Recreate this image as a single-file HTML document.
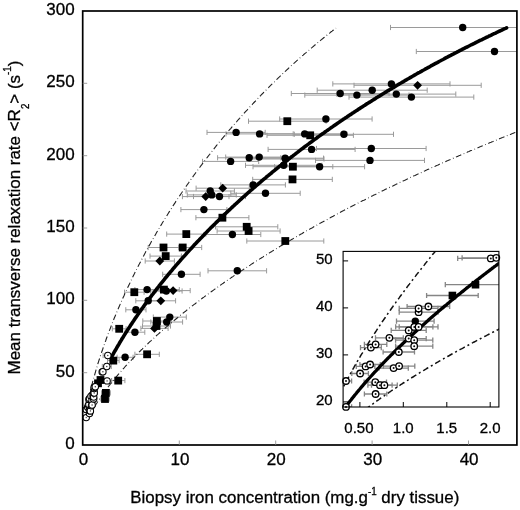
<!DOCTYPE html>
<html><head><meta charset="utf-8"><title>Figure</title><style>html,body{margin:0;padding:0;background:#fff}svg{display:block}text{stroke:#000;stroke-width:0.3px}</style></head><body>
<svg width="520" height="510" viewBox="0 0 520 510" font-family="'Liberation Sans', Arial, sans-serif" fill="#000" stroke="none">
<rect width="520" height="510" fill="#fff"/>
<defs><clipPath id="cm"><rect x="82.7" y="11.0" width="434.2" height="434.0"/></clipPath><clipPath id="ci"><rect x="343.1" y="251.4" width="155.8" height="155.6"/></clipPath></defs>
<g clip-path="url(#cm)">
<path d="M134.9 289.6H159.3M134.9 287.0v5.2M159.3 287.0v5.2" stroke="#9a9a9a" stroke-width="1.0" fill="none"/>
<path d="M150.5 291.0H182.1M150.5 288.4v5.2M182.1 288.4v5.2" stroke="#9a9a9a" stroke-width="1.0" fill="none"/>
<path d="M135.8 300.8H160.6M135.8 298.2v5.2M160.6 298.2v5.2" stroke="#9a9a9a" stroke-width="1.0" fill="none"/>
<path d="M125.8 309.8H146.0M125.8 307.2v5.2M146.0 307.2v5.2" stroke="#9a9a9a" stroke-width="1.0" fill="none"/>
<path d="M153.3 317.1H186.3M153.3 314.5v5.2M186.3 314.5v5.2" stroke="#9a9a9a" stroke-width="1.0" fill="none"/>
<path d="M150.8 322.0H182.6M150.8 319.4v5.2M182.6 319.4v5.2" stroke="#9a9a9a" stroke-width="1.0" fill="none"/>
<path d="M125.0 332.2H144.8M125.0 329.6v5.2M144.8 329.6v5.2" stroke="#9a9a9a" stroke-width="1.0" fill="none"/>
<path d="M117.1 357.3H133.1M117.1 354.7v5.2M133.1 354.7v5.2" stroke="#9a9a9a" stroke-width="1.0" fill="none"/>
<path d="M180.9 209.6H226.9M180.9 207.0v5.2M226.9 207.0v5.2" stroke="#9a9a9a" stroke-width="1.0" fill="none"/>
<path d="M187.3 194.9H236.3M187.3 192.3v5.2M236.3 192.3v5.2" stroke="#9a9a9a" stroke-width="1.0" fill="none"/>
<path d="M186.0 191.0H234.4M186.0 188.4v5.2M234.4 188.4v5.2" stroke="#9a9a9a" stroke-width="1.0" fill="none"/>
<path d="M193.5 196.5H245.5M193.5 193.9v5.2M245.5 193.9v5.2" stroke="#9a9a9a" stroke-width="1.0" fill="none"/>
<path d="M162.7 274.3H200.1M162.7 271.7v5.2M200.1 271.7v5.2" stroke="#9a9a9a" stroke-width="1.0" fill="none"/>
<path d="M207.0 132.4H265.2M207.0 129.8v5.2M265.2 129.8v5.2" stroke="#9a9a9a" stroke-width="1.0" fill="none"/>
<path d="M226.0 133.9H293.2M226.0 131.3v5.2M293.2 131.3v5.2" stroke="#9a9a9a" stroke-width="1.0" fill="none"/>
<path d="M202.5 161.4H258.7M202.5 158.8v5.2M258.7 158.8v5.2" stroke="#9a9a9a" stroke-width="1.0" fill="none"/>
<path d="M217.6 157.8H280.8M217.6 155.2v5.2M280.8 155.2v5.2" stroke="#9a9a9a" stroke-width="1.0" fill="none"/>
<path d="M225.7 157.1H292.7M225.7 154.5v5.2M292.7 154.5v5.2" stroke="#9a9a9a" stroke-width="1.0" fill="none"/>
<path d="M247.0 159.0H324.0M247.0 156.4v5.2M324.0 156.4v5.2" stroke="#9a9a9a" stroke-width="1.0" fill="none"/>
<path d="M245.5 165.3H321.9M245.5 162.7v5.2M321.9 162.7v5.2" stroke="#9a9a9a" stroke-width="1.0" fill="none"/>
<path d="M220.8 184.9H285.4M220.8 182.3v5.2M285.4 182.3v5.2" stroke="#9a9a9a" stroke-width="1.0" fill="none"/>
<path d="M230.8 193.3H300.2M230.8 190.7v5.2M300.2 190.7v5.2" stroke="#9a9a9a" stroke-width="1.0" fill="none"/>
<path d="M204.0 234.5H260.8M204.0 231.9v5.2M260.8 231.9v5.2" stroke="#9a9a9a" stroke-width="1.0" fill="none"/>
<path d="M208.0 270.8H266.6M208.0 268.2v5.2M266.6 268.2v5.2" stroke="#9a9a9a" stroke-width="1.0" fill="none"/>
<path d="M279.7 119.0H372.1M279.7 116.4v5.2M372.1 116.4v5.2" stroke="#9a9a9a" stroke-width="1.0" fill="none"/>
<path d="M262.6 133.9H346.8M262.6 131.3v5.2M346.8 131.3v5.2" stroke="#9a9a9a" stroke-width="1.0" fill="none"/>
<path d="M294.3 134.3H393.5M294.3 131.7v5.2M393.5 131.7v5.2" stroke="#9a9a9a" stroke-width="1.0" fill="none"/>
<path d="M268.1 149.4H355.1M268.1 146.8v5.2M355.1 146.8v5.2" stroke="#9a9a9a" stroke-width="1.0" fill="none"/>
<path d="M316.5 148.5H426.1M316.5 145.9v5.2M426.1 145.9v5.2" stroke="#9a9a9a" stroke-width="1.0" fill="none"/>
<path d="M315.5 160.4H424.5M315.5 157.8v5.2M424.5 157.8v5.2" stroke="#9a9a9a" stroke-width="1.0" fill="none"/>
<path d="M246.7 158.2H323.5M246.7 155.6v5.2M323.5 155.6v5.2" stroke="#9a9a9a" stroke-width="1.0" fill="none"/>
<path d="M274.6 166.7H364.6M274.6 164.1v5.2M364.6 164.1v5.2" stroke="#9a9a9a" stroke-width="1.0" fill="none"/>
<path d="M291.3 93.5H389.1M291.3 90.9v5.2M389.1 90.9v5.2" stroke="#9a9a9a" stroke-width="1.0" fill="none"/>
<path d="M304.8 95.1H409.0M304.8 92.5v5.2M409.0 92.5v5.2" stroke="#9a9a9a" stroke-width="1.0" fill="none"/>
<path d="M317.2 90.2H427.2M317.2 87.6v5.2M427.2 87.6v5.2" stroke="#9a9a9a" stroke-width="1.0" fill="none"/>
<path d="M332.8 83.9H450.0M332.8 81.3v5.2M450.0 81.3v5.2" stroke="#9a9a9a" stroke-width="1.0" fill="none"/>
<path d="M336.8 94.1H455.8M336.8 91.5v5.2M455.8 91.5v5.2" stroke="#9a9a9a" stroke-width="1.0" fill="none"/>
<path d="M349.0 97.1H473.8M349.0 94.5v5.2M473.8 94.5v5.2" stroke="#9a9a9a" stroke-width="1.0" fill="none"/>
<path d="M390.5 27.5H534.9M390.5 24.9v5.2M534.9 24.9v5.2" stroke="#9a9a9a" stroke-width="1.0" fill="none"/>
<path d="M416.3 51.5H572.7M416.3 48.9v5.2M572.7 48.9v5.2" stroke="#9a9a9a" stroke-width="1.0" fill="none"/>
<path d="M124.5 292.2H144.1M124.5 289.6v5.2M144.1 289.6v5.2" stroke="#9a9a9a" stroke-width="1.0" fill="none"/>
<path d="M148.5 289.6H179.3M148.5 287.0v5.2M179.3 287.0v5.2" stroke="#9a9a9a" stroke-width="1.0" fill="none"/>
<path d="M142.8 321.0H171.0M142.8 318.4v5.2M171.0 318.4v5.2" stroke="#9a9a9a" stroke-width="1.0" fill="none"/>
<path d="M142.5 326.0H170.5M142.5 323.4v5.2M170.5 323.4v5.2" stroke="#9a9a9a" stroke-width="1.0" fill="none"/>
<path d="M112.3 328.8H126.1M112.3 326.2v5.2M126.1 326.2v5.2" stroke="#9a9a9a" stroke-width="1.0" fill="none"/>
<path d="M134.9 354.3H159.3M134.9 351.7v5.2M159.3 351.7v5.2" stroke="#9a9a9a" stroke-width="1.0" fill="none"/>
<path d="M107.5 360.6H119.1M107.5 358.0v5.2M119.1 358.0v5.2" stroke="#9a9a9a" stroke-width="1.0" fill="none"/>
<path d="M101.5 392.9H110.3M101.5 390.3v5.2M110.3 390.3v5.2" stroke="#9a9a9a" stroke-width="1.0" fill="none"/>
<path d="M100.8 399.0H109.2M100.8 396.4v5.2M109.2 396.4v5.2" stroke="#9a9a9a" stroke-width="1.0" fill="none"/>
<path d="M111.5 380.6H124.9M111.5 378.0v5.2M124.9 378.0v5.2" stroke="#9a9a9a" stroke-width="1.0" fill="none"/>
<path d="M166.7 234.1H205.9M166.7 231.5v5.2M205.9 231.5v5.2" stroke="#9a9a9a" stroke-width="1.0" fill="none"/>
<path d="M148.2 247.5H178.8M148.2 244.9v5.2M178.8 244.9v5.2" stroke="#9a9a9a" stroke-width="1.0" fill="none"/>
<path d="M163.7 247.5H201.7M163.7 244.9v5.2M201.7 244.9v5.2" stroke="#9a9a9a" stroke-width="1.0" fill="none"/>
<path d="M150.0 256.1H181.4M150.0 253.5v5.2M181.4 253.5v5.2" stroke="#9a9a9a" stroke-width="1.0" fill="none"/>
<path d="M195.9 217.7H248.9M195.9 215.1v5.2M248.9 215.1v5.2" stroke="#9a9a9a" stroke-width="1.0" fill="none"/>
<path d="M215.6 226.8H277.8M215.6 224.2v5.2M277.8 224.2v5.2" stroke="#9a9a9a" stroke-width="1.0" fill="none"/>
<path d="M217.1 231.0H280.1M217.1 228.4v5.2M280.1 228.4v5.2" stroke="#9a9a9a" stroke-width="1.0" fill="none"/>
<path d="M246.8 241.0H323.8M246.8 238.4v5.2M323.8 238.4v5.2" stroke="#9a9a9a" stroke-width="1.0" fill="none"/>
<path d="M248.5 121.2H326.1M248.5 118.6v5.2M326.1 118.6v5.2" stroke="#9a9a9a" stroke-width="1.0" fill="none"/>
<path d="M267.0 135.3H353.4M267.0 132.7v5.2M353.4 132.7v5.2" stroke="#9a9a9a" stroke-width="1.0" fill="none"/>
<path d="M253.0 166.7H332.8M253.0 164.1v5.2M332.8 164.1v5.2" stroke="#9a9a9a" stroke-width="1.0" fill="none"/>
<path d="M252.7 179.4H332.3M252.7 176.8v5.2M332.3 176.8v5.2" stroke="#9a9a9a" stroke-width="1.0" fill="none"/>
<path d="M156.0 290.6H190.2M156.0 288.0v5.2M190.2 288.0v5.2" stroke="#9a9a9a" stroke-width="1.0" fill="none"/>
<path d="M146.0 300.8H175.6M146.0 298.2v5.2M175.6 298.2v5.2" stroke="#9a9a9a" stroke-width="1.0" fill="none"/>
<path d="M140.9 328.4H168.1M140.9 325.8v5.2M168.1 325.8v5.2" stroke="#9a9a9a" stroke-width="1.0" fill="none"/>
<path d="M182.4 196.6H229.0M182.4 194.0v5.2M229.0 194.0v5.2" stroke="#9a9a9a" stroke-width="1.0" fill="none"/>
<path d="M145.2 261.0H174.4M145.2 258.4v5.2M174.4 258.4v5.2" stroke="#9a9a9a" stroke-width="1.0" fill="none"/>
<path d="M196.1 188.2H249.3M196.1 185.6v5.2M249.3 185.6v5.2" stroke="#9a9a9a" stroke-width="1.0" fill="none"/>
<path d="M354.0 85.3H481.2M354.0 82.7v5.2M481.2 82.7v5.2" stroke="#9a9a9a" stroke-width="1.0" fill="none"/>
<path d="M102.3 366.5H111.3M102.3 363.9v5.2M111.3 363.9v5.2" stroke="#9a9a9a" stroke-width="1.0" fill="none"/>
<path d="M102.5 380.9H111.7M102.5 378.3v5.2M111.7 378.3v5.2" stroke="#9a9a9a" stroke-width="1.0" fill="none"/>
<path d="M103.1 355.5H112.5M103.1 352.9v5.2M112.5 352.9v5.2" stroke="#9a9a9a" stroke-width="1.0" fill="none"/>
<path d="M86.3,409.4 L87.2,404.6 L88.2,400.1 L89.2,395.8 L90.1,391.7 L91.1,387.8 L92.1,384.1 L93.0,380.5 L94.0,377.0 L95.0,373.6 L95.9,370.3 L96.9,367.1 L97.8,364.0 L98.8,360.9 L99.8,357.9 L100.7,354.9 L101.7,352.0 L102.7,349.2 L103.6,346.4 L104.6,343.7 L105.6,341.0 L106.5,338.3 L107.5,335.7 L108.4,333.1 L109.4,330.6 L110.4,328.1 L111.3,325.6 L112.3,323.1 L113.3,320.7 L114.2,318.3 L115.2,316.0 L116.2,313.6 L117.1,311.3 L118.1,309.1 L119.1,306.8 L120.0,304.6 L121.0,302.4 L121.9,300.2 L122.9,298.0 L123.9,295.9 L124.8,293.8 L125.8,291.7 L126.8,289.6 L127.7,287.5 L128.7,285.5 L129.7,283.4 L130.6,281.4 L131.6,279.4 L132.5,277.5 L133.5,275.5 L134.5,273.6 L135.4,271.6 L136.4,269.7 L137.4,267.8 L138.3,265.9 L139.3,264.1 L140.3,262.2 L141.2,260.4 L142.2,258.5 L143.2,256.7 L144.1,254.9 L145.1,253.1 L146.0,251.3 L147.0,249.6 L148.0,247.8 L148.9,246.1 L149.9,244.4 L150.9,242.6 L151.8,240.9 L152.8,239.2 L153.8,237.5 L154.7,235.9 L155.7,234.2 L156.6,232.6 L157.6,230.9 L158.6,229.3 L159.5,227.7 L160.5,226.0 L161.5,224.4 L162.4,222.8 L163.4,221.3 L164.4,219.7 L165.3,218.1 L166.3,216.6 L167.3,215.0 L168.2,213.5 L169.2,211.9 L170.1,210.4 L171.1,208.9 L172.1,207.4 L173.0,205.9 L174.0,204.4 L175.0,202.9 L175.9,201.4 L176.9,200.0 L177.9,198.5 L178.8,197.1 L179.8,195.6 L180.7,194.2 L181.7,192.8 L182.7,191.3 L183.6,189.9 L184.6,188.5 L185.6,187.1 L186.5,185.7 L187.5,184.4 L188.5,183.0 L189.4,181.6 L190.4,180.2 L191.4,178.9 L192.3,177.5 L193.3,176.2 L194.2,174.8 L195.2,173.5 L196.2,172.2 L197.1,170.9 L198.1,169.6 L199.1,168.3 L200.0,167.0 L201.0,165.7 L202.0,164.4 L202.9,163.1 L203.9,161.8 L204.8,160.5 L205.8,159.3 L206.8,158.0 L207.7,156.8 L208.7,155.5 L209.7,154.3 L210.6,153.0 L211.6,151.8 L212.6,150.6 L213.5,149.4 L214.5,148.1 L215.5,146.9 L216.4,145.7 L217.4,144.5 L218.3,143.3 L219.3,142.1 L220.3,141.0 L221.2,139.8 L222.2,138.6 L223.2,137.4 L224.1,136.3 L225.1,135.1 L226.1,134.0 L227.0,132.8 L228.0,131.7 L228.9,130.5 L229.9,129.4 L230.9,128.3 L231.8,127.1 L232.8,126.0 L233.8,124.9 L234.7,123.8 L235.7,122.7 L236.7,121.6 L237.6,120.5 L238.6,119.4 L239.6,118.3 L240.5,117.2 L241.5,116.2 L242.4,115.1 L243.4,114.0 L244.4,112.9 L245.3,111.9 L246.3,110.8 L247.3,109.8 L248.2,108.7 L249.2,107.7 L250.2,106.6 L251.1,105.6 L252.1,104.6 L253.0,103.5 L254.0,102.5 L255.0,101.5 L255.9,100.5 L256.9,99.5 L257.9,98.4 L258.8,97.4 L259.8,96.4 L260.8,95.4 L261.7,94.4 L262.7,93.5 L263.6,92.5 L264.6,91.5 L265.6,90.5 L266.5,89.5 L267.5,88.6 L268.5,87.6 L269.4,86.6 L270.4,85.7 L271.4,84.7 L272.3,83.8 L273.3,82.8 L274.3,81.9 L275.2,80.9 L276.2,80.0 L277.1,79.1 L278.1,78.1 L279.1,77.2 L280.0,76.3 L281.0,75.4 L282.0,74.4 L282.9,73.5 L283.9,72.6 L284.9,71.7 L285.8,70.8 L286.8,69.9 L287.8,69.0 L288.7,68.1 L289.7,67.2 L290.6,66.3 L291.6,65.4 L292.6,64.6 L293.5,63.7 L294.5,62.8 L295.5,61.9 L296.4,61.1 L297.4,60.2 L298.4,59.3 L299.3,58.5 L300.3,57.6 L301.2,56.8 L302.2,55.9 L303.2,55.1 L304.1,54.2 L305.1,53.4 L306.1,52.6 L307.0,51.7 L308.0,50.9 L309.0,50.1 L309.9,49.3 L310.9,48.4 L311.9,47.6 L312.8,46.8 L313.8,46.0 L314.7,45.2 L315.7,44.4 L316.7,43.6 L317.6,42.8 L318.6,42.0 L319.6,41.2 L320.5,40.4 L321.5,39.6 L322.5,38.8 L323.4,38.0 L324.4,37.2 L325.3,36.5 L326.3,35.7 L327.3,34.9 L328.2,34.1 L329.2,33.4 L330.2,32.6 L331.1,31.8 L332.1,31.1 L333.1,30.3 L334.0,29.6 L335.0,28.8 L336.0,28.1" stroke="#222" stroke-width="1.1" fill="none" stroke-dasharray="5.8 2.6 0.7 2.6"/>
<path d="M89.2,416.7 L90.1,414.7 L91.1,412.9 L92.1,411.1 L93.0,409.4 L94.0,407.7 L95.0,406.1 L95.9,404.5 L96.9,403.0 L97.8,401.5 L98.8,400.0 L99.8,398.6 L100.7,397.1 L101.7,395.7 L102.7,394.4 L103.6,393.0 L104.6,391.7 L105.6,390.3 L106.5,389.1 L107.5,387.8 L108.4,386.5 L109.4,385.3 L110.4,384.0 L111.3,382.8 L112.3,381.6 L113.3,380.4 L114.2,379.2 L115.2,378.1 L116.2,376.9 L117.1,375.8 L118.1,374.6 L119.1,373.5 L120.0,372.4 L121.0,371.3 L121.9,370.2 L122.9,369.1 L123.9,368.1 L124.8,367.0 L125.8,365.9 L126.8,364.9 L127.7,363.8 L128.7,362.8 L129.7,361.8 L130.6,360.8 L131.6,359.8 L132.5,358.8 L133.5,357.8 L134.5,356.8 L135.4,355.8 L136.4,354.8 L137.4,353.8 L138.3,352.9 L139.3,351.9 L140.3,351.0 L141.2,350.0 L142.2,349.1 L143.2,348.1 L144.1,347.2 L145.1,346.3 L146.0,345.3 L147.0,344.4 L148.0,343.5 L148.9,342.6 L149.9,341.7 L150.9,340.8 L151.8,339.9 L152.8,339.0 L153.8,338.2 L154.7,337.3 L155.7,336.4 L156.6,335.5 L157.6,334.7 L158.6,333.8 L159.5,333.0 L160.5,332.1 L161.5,331.3 L162.4,330.4 L163.4,329.6 L164.4,328.7 L165.3,327.9 L166.3,327.1 L167.3,326.2 L168.2,325.4 L169.2,324.6 L170.1,323.8 L171.1,323.0 L172.1,322.2 L173.0,321.4 L174.0,320.6 L175.0,319.8 L175.9,319.0 L176.9,318.2 L177.9,317.4 L178.8,316.6 L179.8,315.8 L180.7,315.0 L181.7,314.2 L182.7,313.5 L183.6,312.7 L184.6,311.9 L185.6,311.2 L186.5,310.4 L187.5,309.6 L188.5,308.9 L189.4,308.1 L190.4,307.4 L191.4,306.6 L192.3,305.9 L193.3,305.1 L194.2,304.4 L195.2,303.7 L196.2,302.9 L197.1,302.2 L198.1,301.4 L199.1,300.7 L200.0,300.0 L201.0,299.3 L202.0,298.5 L202.9,297.8 L203.9,297.1 L204.8,296.4 L205.8,295.7 L206.8,295.0 L207.7,294.3 L208.7,293.6 L209.7,292.9 L210.6,292.2 L211.6,291.5 L212.6,290.8 L213.5,290.1 L214.5,289.4 L215.5,288.7 L216.4,288.0 L217.4,287.3 L218.3,286.6 L219.3,285.9 L220.3,285.3 L221.2,284.6 L222.2,283.9 L223.2,283.2 L224.1,282.5 L225.1,281.9 L226.1,281.2 L227.0,280.5 L228.0,279.9 L228.9,279.2 L229.9,278.6 L230.9,277.9 L231.8,277.2 L232.8,276.6 L233.8,275.9 L234.7,275.3 L235.7,274.6 L236.7,274.0 L237.6,273.3 L238.6,272.7 L239.6,272.0 L240.5,271.4 L241.5,270.8 L242.4,270.1 L243.4,269.5 L244.4,268.8 L245.3,268.2 L246.3,267.6 L247.3,266.9 L248.2,266.3 L249.2,265.7 L250.2,265.1 L251.1,264.4 L252.1,263.8 L253.0,263.2 L254.0,262.6 L255.0,262.0 L255.9,261.3 L256.9,260.7 L257.9,260.1 L258.8,259.5 L259.8,258.9 L260.8,258.3 L261.7,257.7 L262.7,257.1 L263.6,256.5 L264.6,255.9 L265.6,255.3 L266.5,254.7 L267.5,254.1 L268.5,253.5 L269.4,252.9 L270.4,252.3 L271.4,251.7 L272.3,251.1 L273.3,250.5 L274.3,249.9 L275.2,249.3 L276.2,248.7 L277.1,248.1 L278.1,247.6 L279.1,247.0 L280.0,246.4 L281.0,245.8 L282.0,245.2 L282.9,244.7 L283.9,244.1 L284.9,243.5 L285.8,242.9 L286.8,242.4 L287.8,241.8 L288.7,241.2 L289.7,240.7 L290.6,240.1 L291.6,239.5 L292.6,239.0 L293.5,238.4 L294.5,237.8 L295.5,237.3 L296.4,236.7 L297.4,236.2 L298.4,235.6 L299.3,235.0 L300.3,234.5 L301.2,233.9 L302.2,233.4 L303.2,232.8 L304.1,232.3 L305.1,231.7 L306.1,231.2 L307.0,230.6 L308.0,230.1 L309.0,229.5 L309.9,229.0 L310.9,228.4 L311.9,227.9 L312.8,227.4 L313.8,226.8 L314.7,226.3 L315.7,225.8 L316.7,225.2 L317.6,224.7 L318.6,224.1 L319.6,223.6 L320.5,223.1 L321.5,222.5 L322.5,222.0 L323.4,221.5 L324.4,221.0 L325.3,220.4 L326.3,219.9 L327.3,219.4 L328.2,218.9 L329.2,218.3 L330.2,217.8 L331.1,217.3 L332.1,216.8 L333.1,216.3 L334.0,215.7 L335.0,215.2 L336.0,214.7 L336.9,214.2 L337.9,213.7 L338.8,213.2 L339.8,212.7 L340.8,212.1 L341.7,211.6 L342.7,211.1 L343.7,210.6 L344.6,210.1 L345.6,209.6 L346.6,209.1 L347.5,208.6 L348.5,208.1 L349.4,207.6 L350.4,207.1 L351.4,206.6 L352.3,206.1 L353.3,205.6 L354.3,205.1 L355.2,204.6 L356.2,204.1 L357.2,203.6 L358.1,203.1 L359.1,202.6 L360.1,202.1 L361.0,201.6 L362.0,201.1 L362.9,200.6 L363.9,200.2 L364.9,199.7 L365.8,199.2 L366.8,198.7 L367.8,198.2 L368.7,197.7 L369.7,197.2 L370.7,196.8 L371.6,196.3 L372.6,195.8 L373.5,195.3 L374.5,194.8 L375.5,194.4 L376.4,193.9 L377.4,193.4 L378.4,192.9 L379.3,192.4 L380.3,192.0 L381.3,191.5 L382.2,191.0 L383.2,190.5 L384.2,190.1 L385.1,189.6 L386.1,189.1 L387.0,188.7 L388.0,188.2 L389.0,187.7 L389.9,187.3 L390.9,186.8 L391.9,186.3 L392.8,185.9 L393.8,185.4 L394.8,184.9 L395.7,184.5 L396.7,184.0 L397.6,183.6 L398.6,183.1 L399.6,182.6 L400.5,182.2 L401.5,181.7 L402.5,181.3 L403.4,180.8 L404.4,180.4 L405.4,179.9 L406.3,179.4 L407.3,179.0 L408.2,178.5 L409.2,178.1 L410.2,177.6 L411.1,177.2 L412.1,176.7 L413.1,176.3 L414.0,175.8 L415.0,175.4 L416.0,174.9 L416.9,174.5 L417.9,174.1 L418.9,173.6 L419.8,173.2 L420.8,172.7 L421.7,172.3 L422.7,171.8 L423.7,171.4 L424.6,171.0 L425.6,170.5 L426.6,170.1 L427.5,169.6 L428.5,169.2 L429.5,168.8 L430.4,168.3 L431.4,167.9 L432.4,167.5 L433.3,167.0 L434.3,166.6 L435.2,166.2 L436.2,165.7 L437.2,165.3 L438.1,164.9 L439.1,164.4 L440.1,164.0 L441.0,163.6 L442.0,163.2 L443.0,162.7 L443.9,162.3 L444.9,161.9 L445.8,161.5 L446.8,161.0 L447.8,160.6 L448.7,160.2 L449.7,159.8 L450.7,159.3 L451.6,158.9 L452.6,158.5 L453.6,158.1 L454.5,157.7 L455.5,157.2 L456.5,156.8 L457.4,156.4 L458.4,156.0 L459.3,155.6 L460.3,155.2 L461.3,154.7 L462.2,154.3 L463.2,153.9 L464.2,153.5 L465.1,153.1 L466.1,152.7 L467.1,152.3 L468.0,151.8 L469.0,151.4 L469.9,151.0 L470.9,150.6 L471.9,150.2 L472.8,149.8 L473.8,149.4 L474.8,149.0 L475.7,148.6 L476.7,148.2 L477.7,147.8 L478.6,147.4 L479.6,147.0 L480.6,146.6 L481.5,146.2 L482.5,145.8 L483.4,145.4 L484.4,145.0 L485.4,144.6 L486.3,144.2 L487.3,143.8 L488.3,143.4 L489.2,143.0 L490.2,142.6 L491.2,142.2 L492.1,141.8 L493.1,141.4 L494.0,141.0 L495.0,140.6 L496.0,140.2 L496.9,139.8 L497.9,139.4 L498.9,139.0 L499.8,138.6 L500.8,138.2 L501.8,137.8 L502.7,137.5 L503.7,137.1 L504.6,136.7 L505.6,136.3 L506.6,135.9 L507.5,135.5 L508.5,135.1 L509.5,134.7 L510.4,134.4 L511.4,134.0 L512.4,133.6 L513.3,133.2 L514.3,132.8 L515.3,132.4 L516.2,132.1 L517.2,131.7 L518.1,131.3 L519.1,130.9 L520.1,130.5 L521.0,130.2 L522.0,129.8 L523.0,129.4 L523.9,129.0 L524.9,128.6 L525.9,128.3 L516.7,131.9" stroke="#222" stroke-width="1.1" fill="none" stroke-dasharray="5.8 2.6 0.7 2.6"/>
<path d="M111.3,357.5 L112.3,355.7 L113.3,353.9 L114.2,352.2 L115.2,350.5 L116.2,348.8 L117.1,347.2 L118.1,345.5 L119.1,343.9 L120.0,342.2 L121.0,340.6 L121.9,339.0 L122.9,337.5 L123.9,335.9 L124.8,334.4 L125.8,332.8 L126.8,331.3 L127.7,329.8 L128.7,328.3 L129.7,326.8 L130.6,325.3 L131.6,323.9 L132.5,322.4 L133.5,321.0 L134.5,319.5 L135.4,318.1 L136.4,316.7 L137.4,315.3 L138.3,313.9 L139.3,312.5 L140.3,311.2 L141.2,309.8 L142.2,308.4 L143.2,307.1 L144.1,305.8 L145.1,304.4 L146.0,303.1 L147.0,301.8 L148.0,300.5 L148.9,299.2 L149.9,297.9 L150.9,296.6 L151.8,295.3 L152.8,294.1 L153.8,292.8 L154.7,291.6 L155.7,290.3 L156.6,289.1 L157.6,287.8 L158.6,286.6 L159.5,285.4 L160.5,284.2 L161.5,283.0 L162.4,281.8 L163.4,280.6 L164.4,279.4 L165.3,278.2 L166.3,277.0 L167.3,275.8 L168.2,274.7 L169.2,273.5 L170.1,272.4 L171.1,271.2 L172.1,270.1 L173.0,268.9 L174.0,267.8 L175.0,266.7 L175.9,265.5 L176.9,264.4 L177.9,263.3 L178.8,262.2 L179.8,261.1 L180.7,260.0 L181.7,258.9 L182.7,257.8 L183.6,256.7 L184.6,255.7 L185.6,254.6 L186.5,253.5 L187.5,252.4 L188.5,251.4 L189.4,250.3 L190.4,249.3 L191.4,248.2 L192.3,247.2 L193.3,246.1 L194.2,245.1 L195.2,244.1 L196.2,243.0 L197.1,242.0 L198.1,241.0 L199.1,240.0 L200.0,239.0 L201.0,238.0 L202.0,237.0 L202.9,236.0 L203.9,235.0 L204.8,234.0 L205.8,233.0 L206.8,232.0 L207.7,231.0 L208.7,230.0 L209.7,229.1 L210.6,228.1 L211.6,227.1 L212.6,226.2 L213.5,225.2 L214.5,224.2 L215.5,223.3 L216.4,222.3 L217.4,221.4 L218.3,220.4 L219.3,219.5 L220.3,218.6 L221.2,217.6 L222.2,216.7 L223.2,215.8 L224.1,214.8 L225.1,213.9 L226.1,213.0 L227.0,212.1 L228.0,211.2 L228.9,210.3 L229.9,209.4 L230.9,208.5 L231.8,207.6 L232.8,206.7 L233.8,205.8 L234.7,204.9 L235.7,204.0 L236.7,203.1 L237.6,202.2 L238.6,201.3 L239.6,200.5 L240.5,199.6 L241.5,198.7 L242.4,197.8 L243.4,197.0 L244.4,196.1 L245.3,195.3 L246.3,194.4 L247.3,193.5 L248.2,192.7 L249.2,191.8 L250.2,191.0 L251.1,190.1 L252.1,189.3 L253.0,188.5 L254.0,187.6 L255.0,186.8 L255.9,186.0 L256.9,185.1 L257.9,184.3 L258.8,183.5 L259.8,182.7 L260.8,181.8 L261.7,181.0 L262.7,180.2 L263.6,179.4 L264.6,178.6 L265.6,177.8 L266.5,177.0 L267.5,176.2 L268.5,175.4 L269.4,174.6 L270.4,173.8 L271.4,173.0 L272.3,172.2 L273.3,171.4 L274.3,170.6 L275.2,169.8 L276.2,169.0 L277.1,168.3 L278.1,167.5 L279.1,166.7 L280.0,165.9 L281.0,165.2 L282.0,164.4 L282.9,163.6 L283.9,162.9 L284.9,162.1 L285.8,161.3 L286.8,160.6 L287.8,159.8 L288.7,159.1 L289.7,158.3 L290.6,157.6 L291.6,156.8 L292.6,156.1 L293.5,155.3 L294.5,154.6 L295.5,153.8 L296.4,153.1 L297.4,152.4 L298.4,151.6 L299.3,150.9 L300.3,150.2 L301.2,149.4 L302.2,148.7 L303.2,148.0 L304.1,147.2 L305.1,146.5 L306.1,145.8 L307.0,145.1 L308.0,144.4 L309.0,143.7 L309.9,142.9 L310.9,142.2 L311.9,141.5 L312.8,140.8 L313.8,140.1 L314.7,139.4 L315.7,138.7 L316.7,138.0 L317.6,137.3 L318.6,136.6 L319.6,135.9 L320.5,135.2 L321.5,134.5 L322.5,133.8 L323.4,133.2 L324.4,132.5 L325.3,131.8 L326.3,131.1 L327.3,130.4 L328.2,129.8 L329.2,129.1 L330.2,128.4 L331.1,127.7 L332.1,127.1 L333.1,126.4 L334.0,125.7 L335.0,125.0 L336.0,124.4 L336.9,123.7 L337.9,123.1 L338.8,122.4 L339.8,121.7 L340.8,121.1 L341.7,120.4 L342.7,119.8 L343.7,119.1 L344.6,118.5 L345.6,117.8 L346.6,117.2 L347.5,116.5 L348.5,115.9 L349.4,115.2 L350.4,114.6 L351.4,114.0 L352.3,113.3 L353.3,112.7 L354.3,112.0 L355.2,111.4 L356.2,110.8 L357.2,110.2 L358.1,109.5 L359.1,108.9 L360.1,108.3 L361.0,107.6 L362.0,107.0 L362.9,106.4 L363.9,105.8 L364.9,105.2 L365.8,104.5 L366.8,103.9 L367.8,103.3 L368.7,102.7 L369.7,102.1 L370.7,101.5 L371.6,100.9 L372.6,100.3 L373.5,99.7 L374.5,99.1 L375.5,98.5 L376.4,97.8 L377.4,97.2 L378.4,96.6 L379.3,96.1 L380.3,95.5 L381.3,94.9 L382.2,94.3 L383.2,93.7 L384.2,93.1 L385.1,92.5 L386.1,91.9 L387.0,91.3 L388.0,90.7 L389.0,90.2 L389.9,89.6 L390.9,89.0 L391.9,88.4 L392.8,87.8 L393.8,87.3 L394.8,86.7 L395.7,86.1 L396.7,85.5 L397.6,85.0 L398.6,84.4 L399.6,83.8 L400.5,83.3 L401.5,82.7 L402.5,82.1 L403.4,81.6 L404.4,81.0 L405.4,80.4 L406.3,79.9 L407.3,79.3 L408.2,78.8 L409.2,78.2 L410.2,77.6 L411.1,77.1 L412.1,76.5 L413.1,76.0 L414.0,75.4 L415.0,74.9 L416.0,74.3 L416.9,73.8 L417.9,73.2 L418.9,72.7 L419.8,72.2 L420.8,71.6 L421.7,71.1 L422.7,70.5 L423.7,70.0 L424.6,69.5 L425.6,68.9 L426.6,68.4 L427.5,67.9 L428.5,67.3 L429.5,66.8 L430.4,66.3 L431.4,65.7 L432.4,65.2 L433.3,64.7 L434.3,64.2 L435.2,63.6 L436.2,63.1 L437.2,62.6 L438.1,62.1 L439.1,61.5 L440.1,61.0 L441.0,60.5 L442.0,60.0 L443.0,59.5 L443.9,59.0 L444.9,58.4 L445.8,57.9 L446.8,57.4 L447.8,56.9 L448.7,56.4 L449.7,55.9 L450.7,55.4 L451.6,54.9 L452.6,54.4 L453.6,53.9 L454.5,53.4 L455.5,52.9 L456.5,52.4 L457.4,51.9 L458.4,51.4 L459.3,50.9 L460.3,50.4 L461.3,49.9 L462.2,49.4 L463.2,48.9 L464.2,48.4 L465.1,47.9 L466.1,47.4 L467.1,47.0 L468.0,46.5 L469.0,46.0 L469.9,45.5 L470.9,45.0 L471.9,44.5 L472.8,44.1 L473.8,43.6 L474.8,43.1 L475.7,42.6 L476.7,42.1 L477.7,41.7 L478.6,41.2 L479.6,40.7 L480.6,40.2 L481.5,39.8 L482.5,39.3 L483.4,38.8 L484.4,38.4 L485.4,37.9 L486.3,37.4 L487.3,37.0 L488.3,36.5 L489.2,36.0 L490.2,35.6 L491.2,35.1 L492.1,34.6 L493.1,34.2 L494.0,33.7 L495.0,33.3 L496.0,32.8 L496.9,32.3 L497.9,31.9 L498.9,31.4 L499.8,31.0 L500.8,30.5 L501.8,30.1 L502.7,29.6 L503.7,29.2 L504.6,28.7 L505.6,28.3 L506.6,27.8" stroke="#000" stroke-width="3.6" fill="none" stroke-linecap="round"/>
</g>
<rect x="130.4" y="288.3" width="7.8" height="7.8" fill="#000"/>
<rect x="160.0" y="285.7" width="7.8" height="7.8" fill="#000"/>
<rect x="153.0" y="317.1" width="7.8" height="7.8" fill="#000"/>
<rect x="152.6" y="322.1" width="7.8" height="7.8" fill="#000"/>
<rect x="115.3" y="324.9" width="7.8" height="7.8" fill="#000"/>
<rect x="143.2" y="350.4" width="7.8" height="7.8" fill="#000"/>
<rect x="109.4" y="356.7" width="7.8" height="7.8" fill="#000"/>
<rect x="102.0" y="389.0" width="7.8" height="7.8" fill="#000"/>
<rect x="101.1" y="395.1" width="7.8" height="7.8" fill="#000"/>
<rect x="114.3" y="376.7" width="7.8" height="7.8" fill="#000"/>
<rect x="182.4" y="230.2" width="7.8" height="7.8" fill="#000"/>
<rect x="159.6" y="243.6" width="7.8" height="7.8" fill="#000"/>
<rect x="178.8" y="243.6" width="7.8" height="7.8" fill="#000"/>
<rect x="161.8" y="252.2" width="7.8" height="7.8" fill="#000"/>
<rect x="218.5" y="213.8" width="7.8" height="7.8" fill="#000"/>
<rect x="242.8" y="222.9" width="7.8" height="7.8" fill="#000"/>
<rect x="244.7" y="227.1" width="7.8" height="7.8" fill="#000"/>
<rect x="281.4" y="237.1" width="7.8" height="7.8" fill="#000"/>
<rect x="283.4" y="117.3" width="7.8" height="7.8" fill="#000"/>
<rect x="306.3" y="131.4" width="7.8" height="7.8" fill="#000"/>
<rect x="289.0" y="162.8" width="7.8" height="7.8" fill="#000"/>
<rect x="288.6" y="175.5" width="7.8" height="7.8" fill="#000"/>
<rect x="96.6" y="376.1" width="7.8" height="7.8" fill="#000"/>
<rect x="94.1" y="379.4" width="7.8" height="7.8" fill="#000"/>
<path d="M173.1 286.2l4.4 4.4l-4.4 4.4l-4.4 -4.4z" fill="#000"/>
<path d="M160.8 296.4l4.4 4.4l-4.4 4.4l-4.4 -4.4z" fill="#000"/>
<path d="M154.5 324.0l4.4 4.4l-4.4 4.4l-4.4 -4.4z" fill="#000"/>
<path d="M205.7 192.2l4.4 4.4l-4.4 4.4l-4.4 -4.4z" fill="#000"/>
<path d="M159.8 256.6l4.4 4.4l-4.4 4.4l-4.4 -4.4z" fill="#000"/>
<path d="M222.7 183.8l4.4 4.4l-4.4 4.4l-4.4 -4.4z" fill="#000"/>
<path d="M417.6 80.9l4.4 4.4l-4.4 4.4l-4.4 -4.4z" fill="#000"/>
<circle cx="147.1" cy="289.6" r="3.7" fill="#000"/>
<circle cx="166.3" cy="291.0" r="3.7" fill="#000"/>
<circle cx="148.2" cy="300.8" r="3.7" fill="#000"/>
<circle cx="135.9" cy="309.8" r="3.7" fill="#000"/>
<circle cx="169.8" cy="317.1" r="3.7" fill="#000"/>
<circle cx="166.7" cy="322.0" r="3.7" fill="#000"/>
<circle cx="134.9" cy="332.2" r="3.7" fill="#000"/>
<circle cx="125.1" cy="357.3" r="3.7" fill="#000"/>
<circle cx="203.9" cy="209.6" r="3.7" fill="#000"/>
<circle cx="211.8" cy="194.9" r="3.7" fill="#000"/>
<circle cx="210.2" cy="191.0" r="3.7" fill="#000"/>
<circle cx="219.5" cy="196.5" r="3.7" fill="#000"/>
<circle cx="181.4" cy="274.3" r="3.7" fill="#000"/>
<circle cx="236.1" cy="132.4" r="3.7" fill="#000"/>
<circle cx="259.6" cy="133.9" r="3.7" fill="#000"/>
<circle cx="230.6" cy="161.4" r="3.7" fill="#000"/>
<circle cx="249.2" cy="157.8" r="3.7" fill="#000"/>
<circle cx="259.2" cy="157.1" r="3.7" fill="#000"/>
<circle cx="285.5" cy="159.0" r="3.7" fill="#000"/>
<circle cx="283.7" cy="165.3" r="3.7" fill="#000"/>
<circle cx="253.1" cy="184.9" r="3.7" fill="#000"/>
<circle cx="265.5" cy="193.3" r="3.7" fill="#000"/>
<circle cx="232.4" cy="234.5" r="3.7" fill="#000"/>
<circle cx="237.3" cy="270.8" r="3.7" fill="#000"/>
<circle cx="325.9" cy="119.0" r="3.7" fill="#000"/>
<circle cx="304.7" cy="133.9" r="3.7" fill="#000"/>
<circle cx="343.9" cy="134.3" r="3.7" fill="#000"/>
<circle cx="311.6" cy="149.4" r="3.7" fill="#000"/>
<circle cx="371.3" cy="148.5" r="3.7" fill="#000"/>
<circle cx="370.0" cy="160.4" r="3.7" fill="#000"/>
<circle cx="285.1" cy="158.2" r="3.7" fill="#000"/>
<circle cx="319.6" cy="166.7" r="3.7" fill="#000"/>
<circle cx="340.2" cy="93.5" r="3.7" fill="#000"/>
<circle cx="356.9" cy="95.1" r="3.7" fill="#000"/>
<circle cx="372.2" cy="90.2" r="3.7" fill="#000"/>
<circle cx="391.4" cy="83.9" r="3.7" fill="#000"/>
<circle cx="396.3" cy="94.1" r="3.7" fill="#000"/>
<circle cx="411.4" cy="97.1" r="3.7" fill="#000"/>
<circle cx="462.7" cy="27.5" r="3.7" fill="#000"/>
<circle cx="494.5" cy="51.5" r="3.7" fill="#000"/>
<circle cx="93.9" cy="391.2" r="3.7" fill="#000"/>
<circle cx="86.2" cy="417.6" r="3.2" fill="#fff" stroke="#000" stroke-width="1.05"/>
<circle cx="86.2" cy="417.6" r="0.7" fill="#333"/>
<circle cx="86.2" cy="409.6" r="3.2" fill="#fff" stroke="#000" stroke-width="1.05"/>
<circle cx="86.2" cy="409.6" r="0.7" fill="#333"/>
<circle cx="87.7" cy="407.3" r="3.2" fill="#fff" stroke="#000" stroke-width="1.05"/>
<circle cx="87.7" cy="407.3" r="0.7" fill="#333"/>
<circle cx="88.4" cy="405.1" r="3.2" fill="#fff" stroke="#000" stroke-width="1.05"/>
<circle cx="88.4" cy="405.1" r="0.7" fill="#333"/>
<circle cx="88.9" cy="404.6" r="3.2" fill="#fff" stroke="#000" stroke-width="1.05"/>
<circle cx="88.9" cy="404.6" r="0.7" fill="#333"/>
<circle cx="88.9" cy="399.4" r="3.2" fill="#fff" stroke="#000" stroke-width="1.05"/>
<circle cx="88.9" cy="399.4" r="0.7" fill="#333"/>
<circle cx="89.4" cy="410.0" r="3.2" fill="#fff" stroke="#000" stroke-width="1.05"/>
<circle cx="89.4" cy="410.0" r="0.7" fill="#333"/>
<circle cx="89.5" cy="413.6" r="3.2" fill="#fff" stroke="#000" stroke-width="1.05"/>
<circle cx="89.5" cy="413.6" r="0.7" fill="#333"/>
<circle cx="89.5" cy="398.4" r="3.2" fill="#fff" stroke="#000" stroke-width="1.05"/>
<circle cx="89.5" cy="398.4" r="0.7" fill="#333"/>
<circle cx="90.0" cy="410.9" r="3.2" fill="#fff" stroke="#000" stroke-width="1.05"/>
<circle cx="90.0" cy="410.9" r="0.7" fill="#333"/>
<circle cx="90.4" cy="410.9" r="3.2" fill="#fff" stroke="#000" stroke-width="1.05"/>
<circle cx="90.4" cy="410.9" r="0.7" fill="#333"/>
<circle cx="91.0" cy="396.3" r="3.2" fill="#fff" stroke="#000" stroke-width="1.05"/>
<circle cx="91.0" cy="396.3" r="0.7" fill="#333"/>
<circle cx="91.5" cy="405.7" r="3.2" fill="#fff" stroke="#000" stroke-width="1.05"/>
<circle cx="91.5" cy="405.7" r="0.7" fill="#333"/>
<circle cx="92.0" cy="400.7" r="3.2" fill="#fff" stroke="#000" stroke-width="1.05"/>
<circle cx="92.0" cy="400.7" r="0.7" fill="#333"/>
<circle cx="92.1" cy="405.0" r="3.2" fill="#fff" stroke="#000" stroke-width="1.05"/>
<circle cx="92.1" cy="405.0" r="0.7" fill="#333"/>
<circle cx="93.1" cy="396.6" r="3.2" fill="#fff" stroke="#000" stroke-width="1.05"/>
<circle cx="93.1" cy="396.6" r="0.7" fill="#333"/>
<circle cx="93.1" cy="394.1" r="3.2" fill="#fff" stroke="#000" stroke-width="1.05"/>
<circle cx="93.1" cy="394.1" r="0.7" fill="#333"/>
<circle cx="93.7" cy="398.9" r="3.2" fill="#fff" stroke="#000" stroke-width="1.05"/>
<circle cx="93.7" cy="398.9" r="0.7" fill="#333"/>
<circle cx="93.7" cy="397.1" r="3.2" fill="#fff" stroke="#000" stroke-width="1.05"/>
<circle cx="93.7" cy="397.1" r="0.7" fill="#333"/>
<circle cx="93.8" cy="393.0" r="3.2" fill="#fff" stroke="#000" stroke-width="1.05"/>
<circle cx="93.8" cy="393.0" r="0.7" fill="#333"/>
<circle cx="94.2" cy="393.0" r="3.2" fill="#fff" stroke="#000" stroke-width="1.05"/>
<circle cx="94.2" cy="393.0" r="0.7" fill="#333"/>
<circle cx="94.2" cy="388.5" r="3.2" fill="#fff" stroke="#000" stroke-width="1.05"/>
<circle cx="94.2" cy="388.5" r="0.7" fill="#333"/>
<circle cx="94.2" cy="387.3" r="3.2" fill="#fff" stroke="#000" stroke-width="1.05"/>
<circle cx="94.2" cy="387.3" r="0.7" fill="#333"/>
<circle cx="95.3" cy="386.7" r="3.2" fill="#fff" stroke="#000" stroke-width="1.05"/>
<circle cx="95.3" cy="386.7" r="0.7" fill="#333"/>
<circle cx="102.2" cy="371.9" r="3.2" fill="#fff" stroke="#000" stroke-width="1.05"/>
<circle cx="102.2" cy="371.9" r="0.7" fill="#333"/>
<circle cx="102.9" cy="371.7" r="3.2" fill="#fff" stroke="#000" stroke-width="1.05"/>
<circle cx="102.9" cy="371.7" r="0.7" fill="#333"/>
<circle cx="106.8" cy="366.5" r="3.2" fill="#fff" stroke="#000" stroke-width="1.05"/>
<circle cx="106.8" cy="366.5" r="0.7" fill="#333"/>
<circle cx="107.1" cy="380.9" r="3.2" fill="#fff" stroke="#000" stroke-width="1.05"/>
<circle cx="107.1" cy="380.9" r="0.7" fill="#333"/>
<circle cx="107.8" cy="355.5" r="3.2" fill="#fff" stroke="#000" stroke-width="1.05"/>
<circle cx="107.8" cy="355.5" r="0.7" fill="#333"/>
<rect x="82.7" y="11.0" width="434.2" height="434.0" fill="none" stroke="#000" stroke-width="1.7"/>
<path d="M82.7 372.7h4.5" stroke="#888" stroke-width="0.8"/>
<path d="M82.7 300.3h4.5" stroke="#888" stroke-width="0.8"/>
<path d="M82.7 228.0h4.5" stroke="#888" stroke-width="0.8"/>
<path d="M82.7 155.7h4.5" stroke="#888" stroke-width="0.8"/>
<path d="M82.7 83.3h4.5" stroke="#888" stroke-width="0.8"/>
<path d="M179.3 445.0v-4.5" stroke="#888" stroke-width="0.8"/>
<path d="M275.7 445.0v-4.5" stroke="#888" stroke-width="0.8"/>
<path d="M372.1 445.0v-4.5" stroke="#888" stroke-width="0.8"/>
<path d="M468.5 445.0v-4.5" stroke="#888" stroke-width="0.8"/>
<text x="74.6" y="449.0" font-size="17" text-anchor="end">0</text>
<text x="74.6" y="376.7" font-size="17" text-anchor="end">50</text>
<text x="74.6" y="304.3" font-size="17" text-anchor="end">100</text>
<text x="74.6" y="232.0" font-size="17" text-anchor="end">150</text>
<text x="74.6" y="159.7" font-size="17" text-anchor="end">200</text>
<text x="74.6" y="87.3" font-size="17" text-anchor="end">250</text>
<text x="74.6" y="15.0" font-size="17" text-anchor="end">300</text>
<text x="83.5" y="464.6" font-size="17" text-anchor="middle">0</text>
<text x="179.9" y="464.6" font-size="17" text-anchor="middle">10</text>
<text x="276.3" y="464.6" font-size="17" text-anchor="middle">20</text>
<text x="372.7" y="464.6" font-size="17" text-anchor="middle">30</text>
<text x="469.1" y="464.6" font-size="17" text-anchor="middle">40</text>
<rect x="343.1" y="251.4" width="155.8" height="155.6" fill="#fff"/>
<g clip-path="url(#ci)">
<path d="M340.4 406.9H351.6M340.4 404.3v5.2M351.6 404.3v5.2" stroke="#858585" stroke-width="1.3" fill="none"/>
<path d="M340.4 381.0H351.6M340.4 378.4v5.2M351.6 378.4v5.2" stroke="#858585" stroke-width="1.3" fill="none"/>
<path d="M351.8 373.5H368.4M351.8 370.9v5.2M368.4 370.9v5.2" stroke="#858585" stroke-width="1.3" fill="none"/>
<path d="M356.3 366.4H374.9M356.3 363.8v5.2M374.9 363.8v5.2" stroke="#858585" stroke-width="1.3" fill="none"/>
<path d="M359.9 364.5H380.3M359.9 361.9v5.2M380.3 361.9v5.2" stroke="#858585" stroke-width="1.3" fill="none"/>
<path d="M360.5 347.6H381.3M360.5 345.0v5.2M381.3 345.0v5.2" stroke="#858585" stroke-width="1.3" fill="none"/>
<path d="M364.4 344.4H386.8M364.4 341.8v5.2M386.8 341.8v5.2" stroke="#858585" stroke-width="1.3" fill="none"/>
<path d="M375.5 337.8H403.3M375.5 335.2v5.2M403.3 335.2v5.2" stroke="#858585" stroke-width="1.3" fill="none"/>
<path d="M364.1 382.2H386.5M364.1 379.6v5.2M386.5 379.6v5.2" stroke="#858585" stroke-width="1.3" fill="none"/>
<path d="M367.9 385.2H392.1M367.9 382.6v5.2M392.1 382.6v5.2" stroke="#858585" stroke-width="1.3" fill="none"/>
<path d="M371.5 385.2H397.3M371.5 382.6v5.2M397.3 382.6v5.2" stroke="#858585" stroke-width="1.3" fill="none"/>
<path d="M364.4 394.0H386.8M364.4 391.4v5.2M386.8 391.4v5.2" stroke="#858585" stroke-width="1.3" fill="none"/>
<path d="M378.9 368.1H408.3M378.9 365.5v5.2M408.3 365.5v5.2" stroke="#858585" stroke-width="1.3" fill="none"/>
<path d="M383.4 366.1H414.8M383.4 363.5v5.2M414.8 363.5v5.2" stroke="#858585" stroke-width="1.3" fill="none"/>
<path d="M383.1 352.0H414.5M383.1 349.4v5.2M414.5 349.4v5.2" stroke="#858585" stroke-width="1.3" fill="none"/>
<path d="M391.2 338.6H426.2M391.2 336.0v5.2M426.2 336.0v5.2" stroke="#858585" stroke-width="1.3" fill="none"/>
<path d="M395.6 340.2H432.8M395.6 337.6v5.2M432.8 337.6v5.2" stroke="#858585" stroke-width="1.3" fill="none"/>
<path d="M395.6 346.2H432.8M395.6 343.6v5.2M432.8 343.6v5.2" stroke="#858585" stroke-width="1.3" fill="none"/>
<path d="M391.2 330.4H426.2M391.2 327.8v5.2M426.2 327.8v5.2" stroke="#858585" stroke-width="1.3" fill="none"/>
<path d="M395.7 326.9H432.9M395.7 324.3v5.2M432.9 324.3v5.2" stroke="#858585" stroke-width="1.3" fill="none"/>
<path d="M399.2 326.9H438.0M399.2 324.3v5.2M438.0 324.3v5.2" stroke="#858585" stroke-width="1.3" fill="none"/>
<path d="M399.2 312.2H438.0M399.2 309.6v5.2M438.0 309.6v5.2" stroke="#858585" stroke-width="1.3" fill="none"/>
<path d="M399.2 308.4H438.0M399.2 305.8v5.2M438.0 305.8v5.2" stroke="#858585" stroke-width="1.3" fill="none"/>
<path d="M407.1 306.5H449.7M407.1 303.9v5.2M449.7 303.9v5.2" stroke="#858585" stroke-width="1.3" fill="none"/>
<path d="M457.7 258.4H523.9M457.7 255.8v5.2M523.9 255.8v5.2" stroke="#858585" stroke-width="1.3" fill="none"/>
<path d="M462.1 257.8H530.5M462.1 255.2v5.2M530.5 255.2v5.2" stroke="#858585" stroke-width="1.3" fill="none"/>
<path d="M396.5 321.2H434.1M396.5 318.6v5.2M434.1 318.6v5.2" stroke="#858585" stroke-width="1.3" fill="none"/>
<path d="M445.3 284.7H505.7M445.3 282.1v5.2M505.7 282.1v5.2" stroke="#858585" stroke-width="1.3" fill="none"/>
<path d="M426.6 295.5H478.2M426.6 292.9v5.2M478.2 292.9v5.2" stroke="#858585" stroke-width="1.3" fill="none"/>
<path d="M333.8,407.2 L334.6,405.2 L335.5,403.3 L336.4,401.4 L337.3,399.6 L338.1,397.7 L339.0,395.9 L339.9,394.1 L340.7,392.3 L341.6,390.6 L342.5,388.8 L343.3,387.1 L344.2,385.4 L345.1,383.7 L345.9,382.1 L346.8,380.4 L347.7,378.8 L348.6,377.1 L349.4,375.5 L350.3,373.9 L351.2,372.3 L352.0,370.8 L352.9,369.2 L353.8,367.7 L354.6,366.1 L355.5,364.6 L356.4,363.1 L357.2,361.6 L358.1,360.1 L359.0,358.6 L359.9,357.1 L360.7,355.7 L361.6,354.2 L362.5,352.8 L363.3,351.3 L364.2,349.9 L365.1,348.5 L365.9,347.1 L366.8,345.7 L367.7,344.3 L368.5,342.9 L369.4,341.5 L370.3,340.1 L371.1,338.7 L372.0,337.4 L372.9,336.0 L373.8,334.7 L374.6,333.3 L375.5,332.0 L376.4,330.7 L377.2,329.4 L378.1,328.0 L379.0,326.7 L379.8,325.4 L380.7,324.1 L381.6,322.8 L382.4,321.5 L383.3,320.3 L384.2,319.0 L385.1,317.7 L385.9,316.5 L386.8,315.2 L387.7,313.9 L388.5,312.7 L389.4,311.5 L390.3,310.2 L391.1,309.0 L392.0,307.7 L392.9,306.5 L393.7,305.3 L394.6,304.1 L395.5,302.9 L396.3,301.7 L397.2,300.5 L398.1,299.3 L399.0,298.1 L399.8,296.9 L400.7,295.7 L401.6,294.5 L402.4,293.3 L403.3,292.2 L404.2,291.0 L405.0,289.8 L405.9,288.7 L406.8,287.5 L407.6,286.4 L408.5,285.2 L409.4,284.1 L410.3,282.9 L411.1,281.8 L412.0,280.6 L412.9,279.5 L413.7,278.4 L414.6,277.2 L415.5,276.1 L416.3,275.0 L417.2,273.9 L418.1,272.8 L418.9,271.7 L419.8,270.6 L420.7,269.5 L421.5,268.4 L422.4,267.3 L423.3,266.2 L424.2,265.1 L425.0,264.0 L425.9,262.9 L426.8,261.8 L427.6,260.7 L428.5,259.7 L429.4,258.6 L430.2,257.5 L431.1,256.4 L432.0,255.4 L432.8,254.3 L433.7,253.3 L434.6,252.2 L435.5,251.1 L436.3,250.1 L437.2,249.0 L438.1,248.0 L438.9,247.0 L439.8,245.9 L440.7,244.9 L441.5,243.8 L442.4,242.8 L443.3,241.8 L444.1,240.7 L445.0,239.7 L445.9,238.7 L446.8,237.7 L447.6,236.6 L448.5,235.6 L449.4,234.6 L450.2,233.6 L451.1,232.6 L452.0,231.6 L452.8,230.6 L453.7,229.6 L454.6,228.6 L455.4,227.6 L456.3,226.6 L457.2,225.6 L458.0,224.6 L458.9,223.6 L459.8,222.6 L460.7,221.6 L461.5,220.6 L462.4,219.7 L463.3,218.7 L464.1,217.7 L465.0,216.7 L465.9,215.8 L466.7,214.8 L467.6,213.8 L468.5,212.8 L469.3,211.9 L470.2,210.9 L471.1,209.9 L472.0,209.0 L472.8,208.0 L473.7,207.1 L474.6,206.1 L475.4,205.2 L476.3,204.2 L477.2,203.3 L478.0,202.3 L478.9,201.4 L479.8,200.4 L480.6,199.5 L481.5,198.5 L482.4,197.6 L483.2,196.7 L484.1,195.7 L485.0,194.8 L485.9,193.9 L486.7,192.9 L487.6,192.0 L488.5,191.1 L489.3,190.2 L490.2,189.2 L491.1,188.3 L491.9,187.4 L492.8,186.5 L493.7,185.6 L494.5,184.6 L495.4,183.7 L496.3,182.8 L497.2,181.9 L498.0,181.0 L498.9,180.1 L499.8,179.2 L500.6,178.3 L501.5,177.4 L502.4,176.5 L503.2,175.6 L504.1,174.7 L505.0,173.8 L505.8,172.9 L506.7,172.0" stroke="#111" stroke-width="1.5" fill="none" stroke-dasharray="6 3 2 3"/>
<path d="M365.1,409.7 L365.9,409.1 L366.8,408.4 L367.7,407.7 L368.5,407.1 L369.4,406.4 L370.3,405.8 L371.1,405.1 L372.0,404.5 L372.9,403.9 L373.8,403.2 L374.6,402.6 L375.5,401.9 L376.4,401.3 L377.2,400.7 L378.1,400.1 L379.0,399.5 L379.8,398.8 L380.7,398.2 L381.6,397.6 L382.4,397.0 L383.3,396.4 L384.2,395.8 L385.1,395.2 L385.9,394.6 L386.8,394.0 L387.7,393.4 L388.5,392.8 L389.4,392.2 L390.3,391.6 L391.1,391.0 L392.0,390.4 L392.9,389.9 L393.7,389.3 L394.6,388.7 L395.5,388.1 L396.3,387.6 L397.2,387.0 L398.1,386.4 L399.0,385.8 L399.8,385.3 L400.7,384.7 L401.6,384.2 L402.4,383.6 L403.3,383.0 L404.2,382.5 L405.0,381.9 L405.9,381.4 L406.8,380.8 L407.6,380.3 L408.5,379.7 L409.4,379.2 L410.3,378.6 L411.1,378.1 L412.0,377.5 L412.9,377.0 L413.7,376.5 L414.6,375.9 L415.5,375.4 L416.3,374.9 L417.2,374.3 L418.1,373.8 L418.9,373.3 L419.8,372.7 L420.7,372.2 L421.5,371.7 L422.4,371.1 L423.3,370.6 L424.2,370.1 L425.0,369.6 L425.9,369.1 L426.8,368.5 L427.6,368.0 L428.5,367.5 L429.4,367.0 L430.2,366.5 L431.1,366.0 L432.0,365.5 L432.8,365.0 L433.7,364.4 L434.6,363.9 L435.5,363.4 L436.3,362.9 L437.2,362.4 L438.1,361.9 L438.9,361.4 L439.8,360.9 L440.7,360.4 L441.5,359.9 L442.4,359.4 L443.3,358.9 L444.1,358.4 L445.0,357.9 L445.9,357.5 L446.8,357.0 L447.6,356.5 L448.5,356.0 L449.4,355.5 L450.2,355.0 L451.1,354.5 L452.0,354.0 L452.8,353.6 L453.7,353.1 L454.6,352.6 L455.4,352.1 L456.3,351.6 L457.2,351.1 L458.0,350.7 L458.9,350.2 L459.8,349.7 L460.7,349.2 L461.5,348.8 L462.4,348.3 L463.3,347.8 L464.1,347.3 L465.0,346.9 L465.9,346.4 L466.7,345.9 L467.6,345.5 L468.5,345.0 L469.3,344.5 L470.2,344.1 L471.1,343.6 L472.0,343.1 L472.8,342.7 L473.7,342.2 L474.6,341.8 L475.4,341.3 L476.3,340.8 L477.2,340.4 L478.0,339.9 L478.9,339.5 L479.8,339.0 L480.6,338.5 L481.5,338.1 L482.4,337.6 L483.2,337.2 L484.1,336.7 L485.0,336.3 L485.9,335.8 L486.7,335.4 L487.6,334.9 L488.5,334.5 L489.3,334.0 L490.2,333.6 L491.1,333.1 L491.9,332.7 L492.8,332.2 L493.7,331.8 L494.5,331.4 L495.4,330.9 L496.3,330.5 L497.2,330.0 L498.0,329.6 L498.9,329.1 L499.8,328.7 L500.6,328.3 L501.5,327.8 L502.4,327.4 L503.2,327.0 L504.1,326.5 L505.0,326.1 L505.8,325.6 L506.7,325.2" stroke="#111" stroke-width="1.5" fill="none" stroke-dasharray="6 3 2 3"/>
<path d="M333.8,424.1 L334.6,422.8 L335.5,421.4 L336.4,420.1 L337.3,418.8 L338.1,417.5 L339.0,416.2 L339.9,415.0 L340.7,413.7 L341.6,412.5 L342.5,411.3 L343.3,410.1 L344.2,408.9 L345.1,407.7 L345.9,406.5 L346.8,405.4 L347.7,404.2 L348.6,403.1 L349.4,401.9 L350.3,400.8 L351.2,399.7 L352.0,398.6 L352.9,397.5 L353.8,396.4 L354.6,395.3 L355.5,394.3 L356.4,393.2 L357.2,392.1 L358.1,391.1 L359.0,390.0 L359.9,389.0 L360.7,388.0 L361.6,386.9 L362.5,385.9 L363.3,384.9 L364.2,383.9 L365.1,382.9 L365.9,381.9 L366.8,380.9 L367.7,379.9 L368.5,379.0 L369.4,378.0 L370.3,377.0 L371.1,376.0 L372.0,375.1 L372.9,374.1 L373.8,373.2 L374.6,372.2 L375.5,371.3 L376.4,370.4 L377.2,369.4 L378.1,368.5 L379.0,367.6 L379.8,366.7 L380.7,365.7 L381.6,364.8 L382.4,363.9 L383.3,363.0 L384.2,362.1 L385.1,361.2 L385.9,360.3 L386.8,359.4 L387.7,358.5 L388.5,357.7 L389.4,356.8 L390.3,355.9 L391.1,355.0 L392.0,354.2 L392.9,353.3 L393.7,352.4 L394.6,351.6 L395.5,350.7 L396.3,349.9 L397.2,349.0 L398.1,348.2 L399.0,347.3 L399.8,346.5 L400.7,345.6 L401.6,344.8 L402.4,344.0 L403.3,343.1 L404.2,342.3 L405.0,341.5 L405.9,340.7 L406.8,339.8 L407.6,339.0 L408.5,338.2 L409.4,337.4 L410.3,336.6 L411.1,335.8 L412.0,335.0 L412.9,334.2 L413.7,333.4 L414.6,332.6 L415.5,331.8 L416.3,331.0 L417.2,330.2 L418.1,329.4 L418.9,328.6 L419.8,327.8 L420.7,327.0 L421.5,326.3 L422.4,325.5 L423.3,324.7 L424.2,323.9 L425.0,323.2 L425.9,322.4 L426.8,321.6 L427.6,320.9 L428.5,320.1 L429.4,319.3 L430.2,318.6 L431.1,317.8 L432.0,317.0 L432.8,316.3 L433.7,315.5 L434.6,314.8 L435.5,314.0 L436.3,313.3 L437.2,312.5 L438.1,311.8 L438.9,311.1 L439.8,310.3 L440.7,309.6 L441.5,308.8 L442.4,308.1 L443.3,307.4 L444.1,306.6 L445.0,305.9 L445.9,305.2 L446.8,304.5 L447.6,303.7 L448.5,303.0 L449.4,302.3 L450.2,301.6 L451.1,300.8 L452.0,300.1 L452.8,299.4 L453.7,298.7 L454.6,298.0 L455.4,297.3 L456.3,296.6 L457.2,295.8 L458.0,295.1 L458.9,294.4 L459.8,293.7 L460.7,293.0 L461.5,292.3 L462.4,291.6 L463.3,290.9 L464.1,290.2 L465.0,289.5 L465.9,288.8 L466.7,288.1 L467.6,287.4 L468.5,286.8 L469.3,286.1 L470.2,285.4 L471.1,284.7 L472.0,284.0 L472.8,283.3 L473.7,282.6 L474.6,282.0 L475.4,281.3 L476.3,280.6 L477.2,279.9 L478.0,279.2 L478.9,278.6 L479.8,277.9 L480.6,277.2 L481.5,276.5 L482.4,275.9 L483.2,275.2 L484.1,274.5 L485.0,273.9 L485.9,273.2 L486.7,272.5 L487.6,271.9 L488.5,271.2 L489.3,270.6 L490.2,269.9 L491.1,269.2 L491.9,268.6 L492.8,267.9 L493.7,267.3 L494.5,266.6 L495.4,266.0 L496.3,265.3 L497.2,264.7 L498.0,264.0 L498.9,263.4 L499.8,262.7 L500.6,262.1 L501.5,261.4 L502.4,260.8 L503.2,260.1 L504.1,259.5 L505.0,258.8 L505.8,258.2 L506.7,257.6" stroke="#000" stroke-width="3.3" fill="none"/>
</g>
<rect x="471.7" y="280.9" width="7.6" height="7.6" fill="#000"/>
<rect x="448.6" y="291.7" width="7.6" height="7.6" fill="#000"/>
<circle cx="415.3" cy="321.2" r="3.7" fill="#000"/>
<circle cx="346.0" cy="406.9" r="3.25" fill="#fff" stroke="#000" stroke-width="1.3"/>
<circle cx="346.0" cy="406.9" r="1.0" fill="#111"/>
<circle cx="346.0" cy="381.0" r="3.25" fill="#fff" stroke="#000" stroke-width="1.3"/>
<circle cx="346.0" cy="381.0" r="1.0" fill="#111"/>
<circle cx="360.1" cy="373.5" r="3.25" fill="#fff" stroke="#000" stroke-width="1.3"/>
<circle cx="360.1" cy="373.5" r="1.0" fill="#111"/>
<circle cx="365.6" cy="366.4" r="3.25" fill="#fff" stroke="#000" stroke-width="1.3"/>
<circle cx="365.6" cy="366.4" r="1.0" fill="#111"/>
<circle cx="370.1" cy="364.5" r="3.25" fill="#fff" stroke="#000" stroke-width="1.3"/>
<circle cx="370.1" cy="364.5" r="1.0" fill="#111"/>
<circle cx="370.9" cy="347.6" r="3.25" fill="#fff" stroke="#000" stroke-width="1.3"/>
<circle cx="370.9" cy="347.6" r="1.0" fill="#111"/>
<circle cx="375.6" cy="344.4" r="3.25" fill="#fff" stroke="#000" stroke-width="1.3"/>
<circle cx="375.6" cy="344.4" r="1.0" fill="#111"/>
<circle cx="389.4" cy="337.8" r="3.25" fill="#fff" stroke="#000" stroke-width="1.3"/>
<circle cx="389.4" cy="337.8" r="1.0" fill="#111"/>
<circle cx="375.3" cy="382.2" r="3.25" fill="#fff" stroke="#000" stroke-width="1.3"/>
<circle cx="375.3" cy="382.2" r="1.0" fill="#111"/>
<circle cx="380.0" cy="385.2" r="3.25" fill="#fff" stroke="#000" stroke-width="1.3"/>
<circle cx="380.0" cy="385.2" r="1.0" fill="#111"/>
<circle cx="384.4" cy="385.2" r="3.25" fill="#fff" stroke="#000" stroke-width="1.3"/>
<circle cx="384.4" cy="385.2" r="1.0" fill="#111"/>
<circle cx="375.6" cy="394.0" r="3.25" fill="#fff" stroke="#000" stroke-width="1.3"/>
<circle cx="375.6" cy="394.0" r="1.0" fill="#111"/>
<circle cx="393.6" cy="368.1" r="3.25" fill="#fff" stroke="#000" stroke-width="1.3"/>
<circle cx="393.6" cy="368.1" r="1.0" fill="#111"/>
<circle cx="399.1" cy="366.1" r="3.25" fill="#fff" stroke="#000" stroke-width="1.3"/>
<circle cx="399.1" cy="366.1" r="1.0" fill="#111"/>
<circle cx="398.8" cy="352.0" r="3.25" fill="#fff" stroke="#000" stroke-width="1.3"/>
<circle cx="398.8" cy="352.0" r="1.0" fill="#111"/>
<circle cx="408.7" cy="338.6" r="3.25" fill="#fff" stroke="#000" stroke-width="1.3"/>
<circle cx="408.7" cy="338.6" r="1.0" fill="#111"/>
<circle cx="414.2" cy="340.2" r="3.25" fill="#fff" stroke="#000" stroke-width="1.3"/>
<circle cx="414.2" cy="340.2" r="1.0" fill="#111"/>
<circle cx="414.2" cy="346.2" r="3.25" fill="#fff" stroke="#000" stroke-width="1.3"/>
<circle cx="414.2" cy="346.2" r="1.0" fill="#111"/>
<circle cx="408.7" cy="330.4" r="3.25" fill="#fff" stroke="#000" stroke-width="1.3"/>
<circle cx="408.7" cy="330.4" r="1.0" fill="#111"/>
<circle cx="414.3" cy="326.9" r="3.25" fill="#fff" stroke="#000" stroke-width="1.3"/>
<circle cx="414.3" cy="326.9" r="1.0" fill="#111"/>
<circle cx="418.6" cy="326.9" r="3.25" fill="#fff" stroke="#000" stroke-width="1.3"/>
<circle cx="418.6" cy="326.9" r="1.0" fill="#111"/>
<circle cx="418.6" cy="312.2" r="3.25" fill="#fff" stroke="#000" stroke-width="1.3"/>
<circle cx="418.6" cy="312.2" r="1.0" fill="#111"/>
<circle cx="418.6" cy="308.4" r="3.25" fill="#fff" stroke="#000" stroke-width="1.3"/>
<circle cx="418.6" cy="308.4" r="1.0" fill="#111"/>
<circle cx="428.4" cy="306.5" r="3.25" fill="#fff" stroke="#000" stroke-width="1.3"/>
<circle cx="428.4" cy="306.5" r="1.0" fill="#111"/>
<circle cx="490.8" cy="258.4" r="3.25" fill="#fff" stroke="#000" stroke-width="1.3"/>
<circle cx="490.8" cy="258.4" r="1.0" fill="#111"/>
<circle cx="496.3" cy="257.8" r="3.25" fill="#fff" stroke="#000" stroke-width="1.3"/>
<circle cx="496.3" cy="257.8" r="1.0" fill="#111"/>
<rect x="343.1" y="251.4" width="155.8" height="155.6" fill="none" stroke="#000" stroke-width="1.1"/>
<path d="M343.1 401.9h5" stroke="#000" stroke-width="1"/>
<text x="332.6" y="405.2" font-size="15" text-anchor="end">20</text>
<path d="M343.1 354.9h5" stroke="#000" stroke-width="1"/>
<text x="332.6" y="358.2" font-size="15" text-anchor="end">30</text>
<path d="M343.1 307.9h5" stroke="#000" stroke-width="1"/>
<text x="332.6" y="311.2" font-size="15" text-anchor="end">40</text>
<path d="M343.1 260.9h5" stroke="#000" stroke-width="1"/>
<text x="332.6" y="264.2" font-size="15" text-anchor="end">50</text>
<path d="M359.9 407.0v-5" stroke="#000" stroke-width="1"/>
<text x="358.9" y="433" font-size="15" text-anchor="middle">0.50</text>
<path d="M403.3 407.0v-5" stroke="#000" stroke-width="1"/>
<text x="403.3" y="433" font-size="15" text-anchor="middle">1.0</text>
<path d="M446.8 407.0v-5" stroke="#000" stroke-width="1"/>
<text x="446.8" y="433" font-size="15" text-anchor="middle">1.5</text>
<path d="M490.2 407.0v-5" stroke="#000" stroke-width="1"/>
<text x="490.2" y="433" font-size="15" text-anchor="middle">2.0</text>
<text x="130.3" y="503.2" font-size="17.3" textLength="329" lengthAdjust="spacingAndGlyphs">Biopsy iron concentration (mg.g<tspan font-size="10" dy="-8.5">-1</tspan><tspan dy="8.5"> dry tissue)</tspan></text>
<text transform="translate(19.5,374.5) rotate(-90)" font-size="17.3" textLength="314" lengthAdjust="spacingAndGlyphs">Mean transverse relaxation rate &lt;R<tspan font-size="10" dy="9.5">2</tspan><tspan dy="-9.5">&gt; (s</tspan><tspan font-size="10" dy="-8.5">-1</tspan><tspan dy="8.5">)</tspan></text>
</svg>
</body></html>
